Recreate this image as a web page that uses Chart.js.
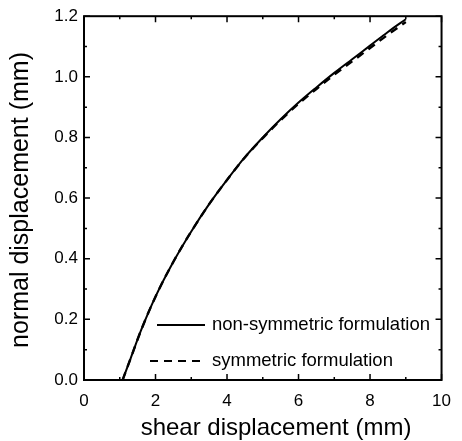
<!DOCTYPE html>
<html>
<head>
<meta charset="utf-8">
<script src="https://cdn.jsdelivr.net/npm/chart.js@4.4.1/dist/chart.umd.min.js"></script>
<style>
  html, body { margin: 0; padding: 0; background: #fff; }
  #wrap { width: 462px; height: 441px; }
</style>
</head>
<body>
<div id="wrap"><canvas id="dispChart" width="462" height="441"></canvas></div>
<script>
/* ---------------------------------------------------
   Data
---------------------------------------------------*/

const shearDisp = [1.08, 1.3, 1.6, 2.0, 2.5, 3.0, 3.5, 4.0, 4.5, 5.0, 5.5, 6.0, 6.5, 7.0, 7.5, 8.0, 8.5, 9.0];
const nonSymmetric = [0, 0.07, 0.165, 0.275, 0.39, 0.49, 0.58, 0.66, 0.735, 0.80, 0.86, 0.915, 0.965, 1.013, 1.058, 1.103, 1.148, 1.19];
const symmetric = [0, 0.07, 0.165, 0.275, 0.39, 0.49, 0.58, 0.66, 0.734, 0.798, 0.857, 0.911, 0.96, 1.007, 1.051, 1.095, 1.139, 1.181];

const seriesNames = ["non-symmetric formulation", "symmetric formulation"];
const xTitle = "shear displacement (mm)";
const yTitle = "normal displacement (mm)";

const xMajor = [0, 2, 4, 6, 8, 10];
const xMinor = [1, 3, 5, 7, 9];
const yMajor = [0, 0.2, 0.4, 0.6, 0.8, 1.0, 1.2];
const yMinor = [0.1, 0.3, 0.5, 0.7, 0.9, 1.1];

const FONT = "'Liberation Sans', Arial, Helvetica, sans-serif";

function toPoints(xs, ys) {
    return xs.map((x, i) => ({ x: x, y: ys[i] }));
}

/* ---------------------------------------------------
   Frame, inward ticks, axis titles and in-plot legend
---------------------------------------------------*/

const framePlugin = {
    id: "frame",
    afterDraw(chart) {
        const ctx = chart.ctx;
        const a = chart.chartArea;
        const xs = chart.scales.x;
        const ys = chart.scales.y;

        ctx.save();
        ctx.strokeStyle = "#000";
        ctx.lineWidth = 2;
        ctx.strokeRect(a.left, a.top, a.right - a.left, a.bottom - a.top);

        ctx.lineWidth = 1.5;
        ctx.beginPath();
        xMajor.forEach(v => {
            const px = xs.getPixelForValue(v);
            ctx.moveTo(px, a.bottom); ctx.lineTo(px, a.bottom - 6);
            ctx.moveTo(px, a.top); ctx.lineTo(px, a.top + 6);
        });
        xMinor.forEach(v => {
            const px = xs.getPixelForValue(v);
            ctx.moveTo(px, a.bottom); ctx.lineTo(px, a.bottom - 3);
            ctx.moveTo(px, a.top); ctx.lineTo(px, a.top + 3);
        });
        yMajor.forEach(v => {
            const py = ys.getPixelForValue(v);
            ctx.moveTo(a.left, py); ctx.lineTo(a.left + 6, py);
            ctx.moveTo(a.right, py); ctx.lineTo(a.right - 6, py);
        });
        yMinor.forEach(v => {
            const py = ys.getPixelForValue(v);
            ctx.moveTo(a.left, py); ctx.lineTo(a.left + 3, py);
            ctx.moveTo(a.right, py); ctx.lineTo(a.right - 3, py);
        });
        ctx.stroke();

        // axis titles
        ctx.fillStyle = "#000";
        ctx.textAlign = "center";
        ctx.textBaseline = "middle";
        ctx.font = "24px " + FONT;
        ctx.fillText(xTitle, 276, 428);
        ctx.save();
        ctx.translate(21, 200);
        ctx.rotate(-Math.PI / 2);
        ctx.font = "25px " + FONT;
        ctx.fillText(yTitle, 0, 0);
        ctx.restore();

        // legend, lower right inside the plot
        const rows = [325, 361];
        chart.data.datasets.forEach((ds, i) => {
            const y = rows[i];
            ctx.beginPath();
            ctx.lineWidth = 2;
            ctx.setLineDash(ds.borderDash || []);
            ctx.moveTo(i === 0 ? 157 : 150, y);
            ctx.lineTo(205, y);
            ctx.stroke();
            ctx.setLineDash([]);
            ctx.font = "18.5px " + FONT;
            ctx.textBaseline = "middle";
            ctx.textAlign = "left";
            ctx.fillText(ds.label, 212, y);
        });
        ctx.restore();
    }
};

/* ---------------------------------------------------
   Chart
---------------------------------------------------*/

function renderChart() {

    const ctx = document.getElementById("dispChart");

    new Chart(ctx, {
        type: "line",
        data: {
            datasets: [
                {
                    label: seriesNames[0],
                    data: toPoints(shearDisp, nonSymmetric),
                    borderColor: "#000",
                    borderWidth: 2,
                    pointRadius: 0,
                    cubicInterpolationMode: "monotone",
                    fill: false
                },
                {
                    label: seriesNames[1],
                    data: toPoints(shearDisp, symmetric),
                    borderColor: "#000",
                    borderWidth: 2.4,
                    borderDash: [8, 6],
                    pointRadius: 0,
                    cubicInterpolationMode: "monotone",
                    fill: false
                }
            ]
        },
        options: {
            responsive: false,
            animation: false,
            layout: { padding: { top: 14, right: 18, left: 0, bottom: 0 } },
            plugins: {
                legend: { display: false },
                tooltip: { enabled: false }
            },
            scales: {
                x: {
                    type: "linear",
                    min: 0,
                    max: 10,
                    grid: { display: false, drawTicks: false },
                    border: { display: false },
                    ticks: {
                        stepSize: 2,
                        color: "#000",
                        padding: 11,
                        font: { size: 17, family: FONT }
                    },
                    afterFit: scale => { scale.height = 61; }
                },
                y: {
                    min: 0,
                    max: 1.2,
                    grid: { display: false, drawTicks: false },
                    border: { display: false },
                    ticks: {
                        stepSize: 0.2,
                        color: "#000",
                        padding: 6,
                        font: { size: 17, family: FONT },
                        callback: v => v.toFixed(1)
                    },
                    afterFit: scale => { scale.width = 84; }
                }
            }
        },
        plugins: [framePlugin]
    });

}

window.onload = function () {

    renderChart();

};
</script>
</body>
</html>
